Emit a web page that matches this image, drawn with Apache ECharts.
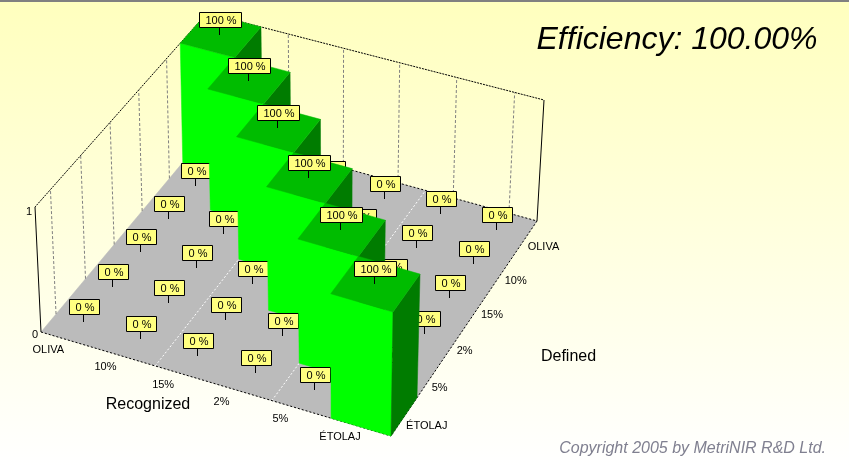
<!DOCTYPE html>
<html><head><meta charset="utf-8">
<style>html,body{margin:0;padding:0;background:#fff}#c{width:849px;height:466px}</style>
<script src="https://cdn.jsdelivr.net/npm/echarts@6/dist/echarts.min.js"></script>
</head><body><div id="c"></div>
<script>
// ---- data ----
const recognizedCategories = ['OLIVA', '10%', '15%', '2%', '5%', 'ÉTOLAJ'];
const definedCategories = ['OLIVA', '10%', '15%', '2%', '5%', 'ÉTOLAJ'];
const rowOliva  = [100, 0, 0, 0, 0, 0];
const row10     = [0, 100, 0, 0, 0, 0];
const row15     = [0, 0, 100, 0, 0, 0];
const row2      = [0, 0, 0, 100, 0, 0];
const row5      = [0, 0, 0, 0, 100, 0];
const rowEtolaj = [0, 0, 0, 0, 0, 100];
const matrix = [rowOliva, row10, row15, row2, row5, rowEtolaj];
const zTicks = [0, 1];
const titleText = 'Efficiency: 100.00%';
const copyrightText = 'Copyright 2005 by MetriNIR R&D Ltd.';

// ---- view projection (corners of the plot box on the view plane) ----
const floorQuad = [[209,131],[537,221],[391,436],[41,332]];
const topQuad   = [[207,13],[544,100],[393,312],[35,207]];
function quadMap(q){
  const [[x0,y0],[x1,y1],[x2,y2],[x3,y3]] = q;
  const dx1=x1-x2,dx2=x3-x2,sx=x0-x1+x2-x3,dy1=y1-y2,dy2=y3-y2,sy=y0-y1+y2-y3;
  const den=dx1*dy2-dx2*dy1;
  const g=(sx*dy2-dx2*sy)/den,h=(dx1*sy-sx*dy1)/den;
  const a=x1-x0+g*x1,b=x3-x0+h*x3,c=x0,d=y1-y0+g*y1,e=y3-y0+h*y3,f=y0;
  return (u,v)=>{const w=g*u+h*v+1;return [(a*u+b*v+c)/w,(d*u+e*v+f)/w];};
}
const floorMap=quadMap(floorQuad), topMap=quadMap(topQuad);
const N=recognizedCategories.length;
function proj(r,d,z){
  const F=floorMap(r/N,d/N),T=topMap(r/N,d/N);
  return [F[0]+(T[0]-F[0])*z,F[1]+(T[1]-F[1])*z];
}

// painter's order, back corner first
const cells=[];
matrix.forEach((row,r)=>row.forEach((v,d)=>cells.push([r,d,v])));
cells.sort((a,b)=>(a[0]+a[1])-(b[0]+b[1]) || (a[1]-b[1]));

const BLACK='#000',GRAY='#808080';
function poly(api,pts,fill){
  return {type:'polygon',shape:{points:pts.map(p=>api.coord(p))},style:{fill:fill,stroke:fill,lineWidth:0.5}};
}
function seg(api,a,b,stroke,dash,w){
  const A=api.coord(a),B=api.coord(b);
  return {type:'line',shape:{x1:A[0],y1:A[1],x2:B[0],y2:B[1]},
    style:{stroke:stroke,lineWidth:w||1,lineDash:dash||null,fill:null}};
}
function txt(api,p,s,opt){
  const P=api.coord(p);
  return {type:'text',x:P[0],y:P[1],style:Object.assign({text:s,fill:BLACK,
    font:'11px "Liberation Sans"',align:'center',verticalAlign:'middle'},opt||{})};
}

function renderFrame(params,api){
  const ch=[];
  ch.push(poly(api,[proj(0,0,0),proj(N,0,0),proj(N,N,0),proj(0,N,0)],'#BBBBBB'));
  [2,4].forEach(r=>ch.push(seg(api,proj(r,N,0),proj(r,0,0),'#fff',[2,2])));
  for(let i=0;i<N;i++){
    ch.push(seg(api,proj(i+0.5,0,0),proj(i+0.5,0,1),GRAY,[3,2]));
    ch.push(seg(api,proj(0,i+0.5,0),proj(0,i+0.5,1),GRAY,[3,2]));
  }
  ch.push(seg(api,proj(0,0,1),proj(N,0,1),BLACK,[2,1]));
  ch.push(seg(api,proj(0,0,1),proj(0,N,1),BLACK,[2,1]));
  ch.push(seg(api,proj(0,0,0),proj(N,0,0),BLACK,[2,2]));
  ch.push(seg(api,proj(N,0,0),proj(N,N,0),BLACK,[2,2]));
  ch.push(seg(api,proj(0,N,0),proj(N,N,0),BLACK,[2,2]));
  ch.push(seg(api,proj(0,N,0),proj(0,N,1),BLACK));
  ch.push(seg(api,proj(N,0,0),proj(N,0,1),BLACK));
  zTicks.forEach(z=>{
    const p=proj(0,N,z);
    ch.push(txt(api,[p[0]-6,p[1]+3+2*z],String(z)));
  });
  recognizedCategories.forEach((c,i)=>{
    const p=proj(i+0.5,N,0);
    ch.push(txt(api,[p[0]-21,p[1]+10],c));
  });
  definedCategories.forEach((c,i)=>{
    const p=proj(N,i+0.5,0);
    ch.push(txt(api,[p[0]+2,p[1]+9],c,{align:'left'}));
  });
  return {type:'group',children:ch};
}

function renderCell(params,api){
  const r=api.value(0),d=api.value(1),v=api.value(2),z=v/100,ch=[];
  if(z>0){
    ch.push(poly(api,[proj(r,d+1,0),proj(r+1,d+1,0),proj(r+1,d+1,z),proj(r,d+1,z)],'#00FF00'));
    ch.push(poly(api,[proj(r+1,d,0),proj(r+1,d+1,0),proj(r+1,d+1,z),proj(r+1,d,z)],'#007C00'));
    ch.push(poly(api,[proj(r,d,z),proj(r+1,d,z),proj(r+1,d+1,z),proj(r,d+1,z)],'#00BC00'));
  }
  const A=api.coord(proj(r+0.5,d+0.5,z));
  const s=v+' %',w=z>0?42:30,h=15;
  const ax=Math.round(A[0]-1.5)+0.5,ay=Math.round(A[1]);
  const bx=Math.round(ax-w/2)+0.5,by=ay-8-h+0.5;
  ch.push({type:'line',shape:{x1:ax,y1:by+h,x2:ax,y2:ay},style:{stroke:BLACK,lineWidth:1}});
  ch.push({type:'rect',shape:{x:bx,y:by,width:w,height:h},style:{fill:'#FFFF80',stroke:BLACK,lineWidth:1}});
  ch.push({type:'text',x:bx+w/2+0.5,y:by+h/2+0.5,style:{text:s,fill:BLACK,font:'11px "Liberation Sans"',align:'center',verticalAlign:'middle'}});
  return {type:'group',children:ch};
}

const chart=echarts.init(document.getElementById('c'),null,{renderer:'canvas',width:849,height:466});
chart.setOption({
  animation:false,
  backgroundColor:{type:'linear',x:0,y:0,x2:0,y2:1,colorStops:[{offset:0,color:'#FFFFBE'},{offset:1,color:'#FFFFFF'}]},
  grid:{left:0,right:0,top:0,bottom:0},
  xAxis:{type:'value',min:0,max:849,show:false},
  yAxis:{type:'value',min:0,max:466,inverse:true,show:false},
  tooltip:{show:false},
  graphic:[
    {type:'rect',shape:{x:0,y:0,width:849,height:2},style:{fill:'#808080'},z:10},
    {type:'text',x:536.5,y:40,style:{text:titleText,font:'italic 32px "Liberation Sans"',fill:'#000',verticalAlign:'middle'},z:10},
    {type:'text',x:148,y:405,style:{text:'Recognized',font:'16px "Liberation Sans"',fill:'#000',align:'center',verticalAlign:'middle'},z:10},
    {type:'text',x:568.5,y:357,style:{text:'Defined',font:'16px "Liberation Sans"',fill:'#000',align:'center',verticalAlign:'middle'},z:10},
    {type:'text',x:826,y:449,style:{text:copyrightText,font:'italic 16px "Liberation Sans"',fill:'#808090',align:'right',verticalAlign:'middle'},z:10}
  ],
  series:[
    {type:'custom',coordinateSystem:'cartesian2d',renderItem:renderFrame,data:[[0,0]],clip:false,silent:true,z:1},
    {type:'custom',coordinateSystem:'cartesian2d',renderItem:renderCell,data:cells,clip:false,silent:true,z:2,
     encode:{x:0,y:1}}
  ]
});
</script></body></html>
